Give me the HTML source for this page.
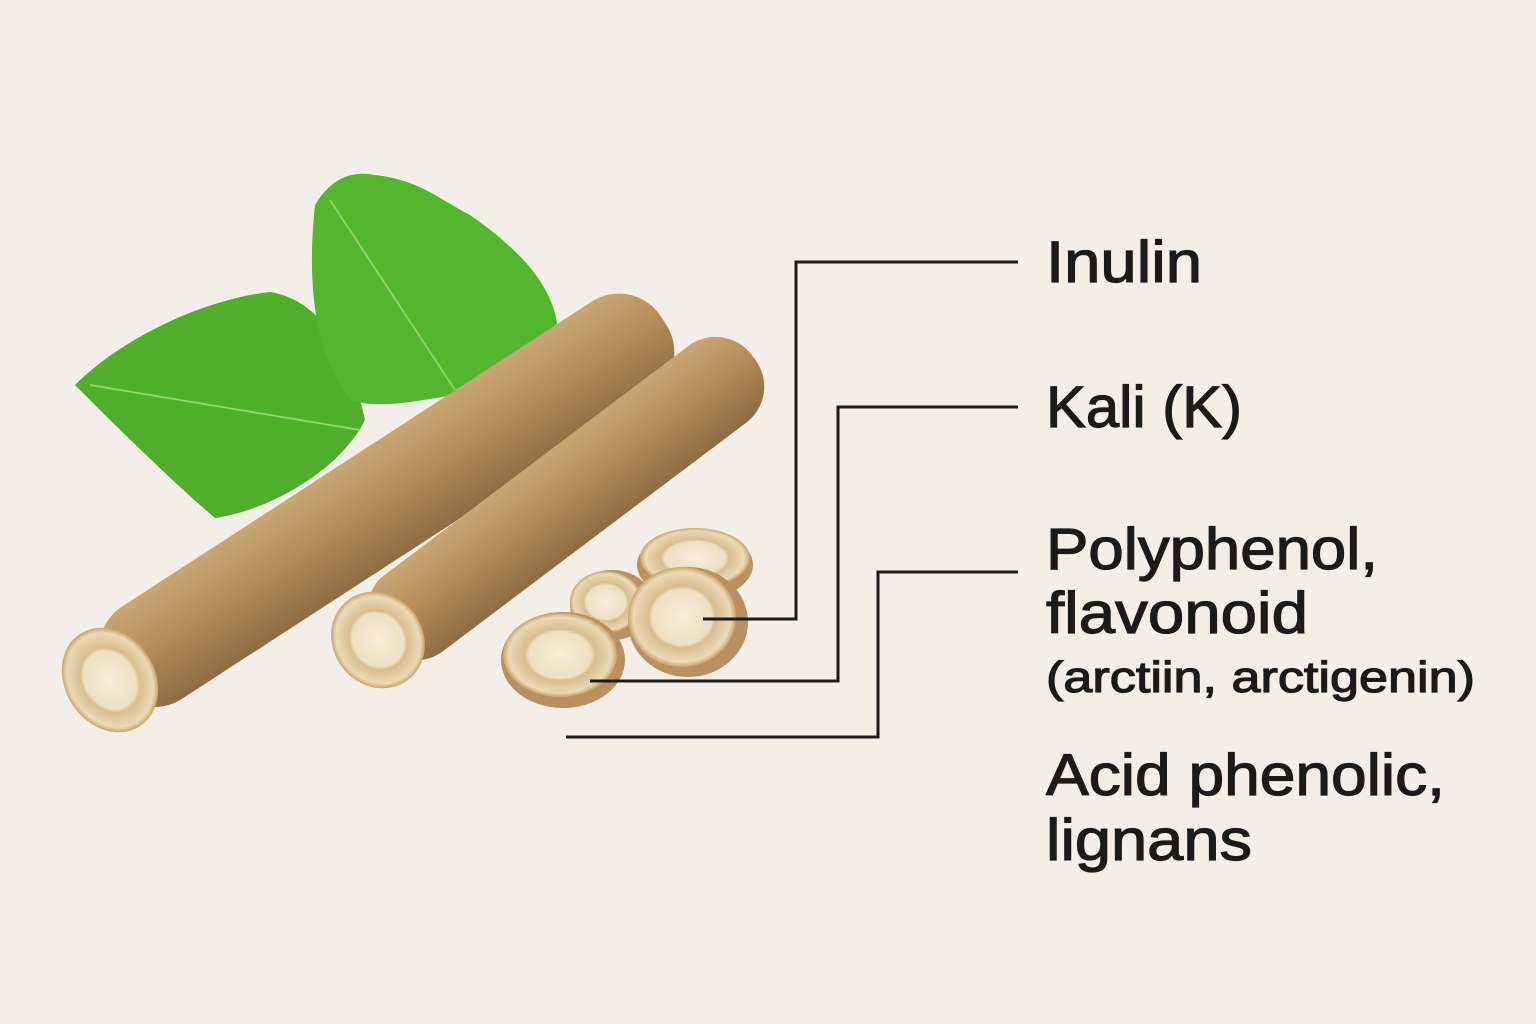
<!DOCTYPE html>
<html><head><meta charset="utf-8"><style>
html,body{margin:0;padding:0;background:#f3efe8;}
svg{display:block}
text{font-family:"Liberation Sans","DejaVu Sans",sans-serif;fill:#1b1b1b;stroke:#1b1b1b;stroke-width:1.2}
</style></head><body>
<svg width="1536" height="1024" viewBox="0 0 1536 1024">
<rect width="1536" height="1024" fill="#f3efe8"/>
<defs>
<linearGradient id="rootg" x1="0" y1="0" x2="0" y2="1">
<stop offset="0" stop-color="#c9a774"/><stop offset="0.5" stop-color="#b08a57"/><stop offset="1" stop-color="#8e6c42"/>
</linearGradient>
<radialGradient id="cut"><stop offset="0" stop-color="#f6ecd8"/><stop offset="0.55" stop-color="#efe0c2"/><stop offset="0.62" stop-color="#d9bd8f"/><stop offset="0.9" stop-color="#ecd9b5"/><stop offset="1" stop-color="#c8a46c"/></radialGradient>
</defs>
<path d="M75,385 C120,340 200,300 270,292 C320,300 350,350 365,420 C340,470 270,510 215,518 C170,480 110,420 75,385Z" fill="#4fae2c"/>
<path d="M315,205 C330,180 350,170 375,175 C420,180 440,200 470,215 C520,250 560,290 558,340 C540,370 500,390 455,395 C420,400 380,410 350,400 C320,360 305,300 315,205Z" fill="#54b52f"/>
<path d="M90,385 L360,430 M330,200 L455,390" stroke="#8fd26a" stroke-width="2" fill="none"/>
<g transform="translate(110,680) rotate(-33)">
<rect x="0" y="-55" width="660" height="110" rx="50" fill="url(#rootg)"/>
<ellipse cx="0" cy="0" rx="45" ry="55" fill="url(#cut)"/>
</g>
<g transform="translate(378,640) rotate(-37)">
<rect x="0" y="-48" width="470" height="96" rx="45" fill="url(#rootg)"/>
<ellipse cx="0" cy="0" rx="45" ry="50" fill="url(#cut)"/>
</g>
<ellipse cx="695" cy="565" rx="58" ry="35" fill="#b99060"/><ellipse cx="695" cy="558" rx="55" ry="30" fill="url(#cut)"/>
<ellipse cx="612" cy="605" rx="42" ry="35" fill="#b99060"/><ellipse cx="606" cy="602" rx="36" ry="31" fill="url(#cut)"/>
<ellipse cx="688" cy="622" rx="60" ry="55" fill="#b99060"/><ellipse cx="682" cy="617" rx="54" ry="50" fill="url(#cut)"/>
<ellipse cx="563" cy="660" rx="62" ry="48" fill="#b99060"/><ellipse cx="560" cy="655" rx="57" ry="42" fill="url(#cut)"/>
<g stroke="#1b1b1b" stroke-width="3" fill="none">
<polyline points="1018,262 796,262 796,619 703,619"/>
<polyline points="1018,407 838,407 838,681 590,681"/>
<polyline points="1018,572 878,572 878,737 566,737"/>
</g>
<text x="1046" y="282" font-size="58" textLength="156" lengthAdjust="spacingAndGlyphs">Inulin</text>
<text x="1046" y="427" font-size="58" textLength="196" lengthAdjust="spacingAndGlyphs">Kali (K)</text>
<text x="1046" y="569" font-size="58" textLength="332" lengthAdjust="spacingAndGlyphs">Polyphenol,</text>
<text x="1046" y="633" font-size="58" textLength="262" lengthAdjust="spacingAndGlyphs">flavonoid</text>
<text x="1046" y="692" font-size="44" textLength="429" lengthAdjust="spacingAndGlyphs">(arctiin, arctigenin)</text>
<text x="1046" y="795" font-size="58" textLength="399" lengthAdjust="spacingAndGlyphs">Acid phenolic,</text>
<text x="1046" y="860" font-size="58" textLength="206" lengthAdjust="spacingAndGlyphs">lignans</text>
</svg>
</body></html>
